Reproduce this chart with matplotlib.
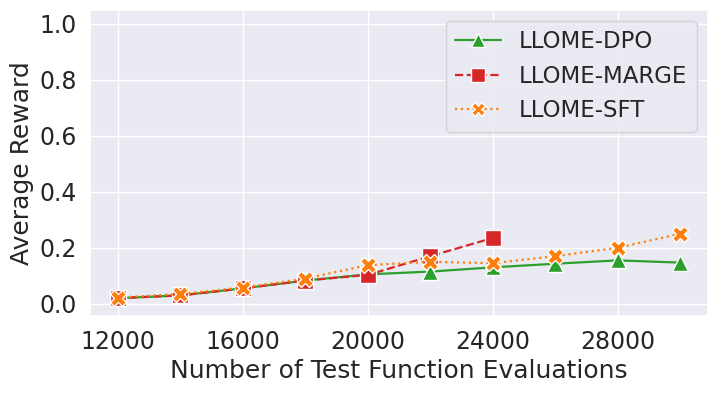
import matplotlib
matplotlib.use("Agg")
import matplotlib.pyplot as plt
import seaborn as sns

sns.set_theme(style="darkgrid")
plt.rcParams['font.family'] = ['DejaVu Sans']

x_dpo = [12000, 14000, 16000, 18000, 20000, 22000, 24000, 26000, 28000, 30000]
y_dpo = [0.020, 0.030, 0.055, 0.083, 0.105, 0.115, 0.130, 0.143, 0.155, 0.147]
x_marge = [12000, 14000, 16000, 18000, 20000, 22000, 24000]
y_marge = [0.020, 0.030, 0.055, 0.083, 0.103, 0.170, 0.235]
x_sft = [12000, 14000, 16000, 18000, 20000, 22000, 24000, 26000, 28000, 30000]
y_sft = [0.022, 0.035, 0.058, 0.090, 0.138, 0.150, 0.145, 0.170, 0.200, 0.250]

fig, ax = plt.subplots(figsize=(7.19, 3.93), dpi=100)
ax.plot(x_dpo, y_dpo, color='#2ca02c', linestyle='-', marker='^', markersize=11,
        markeredgecolor='white', markeredgewidth=1, linewidth=1.6, label='LLOME-DPO')
ax.plot(x_marge, y_marge, color='#d62728', linestyle='--', marker='s', markersize=11,
        markeredgecolor='white', markeredgewidth=1, linewidth=1.6, label='LLOME-MARGE')
ax.plot(x_sft, y_sft, color='#ff7f0e', linestyle=':', marker='X', markersize=11,
        markeredgecolor='white', markeredgewidth=1, linewidth=1.6, label='LLOME-SFT')

ax.set_xlim(11100, 30900)
ax.set_ylim(-0.045, 1.05)
ax.set_xticks([12000, 16000, 20000, 24000, 28000])
ax.set_yticks([0.0, 0.2, 0.4, 0.6, 0.8, 1.0])
ax.tick_params(labelsize=17)
ax.set_xlabel('Number of Test Function Evaluations', fontsize=18)
ax.set_ylabel('Average Reward', fontsize=18)
ax.legend(loc='upper right', fontsize=16.5, markerscale=0.9)

fig.subplots_adjust(left=0.125, right=0.985, top=0.975, bottom=0.195)
fig.savefig('out.png', dpi=100)
